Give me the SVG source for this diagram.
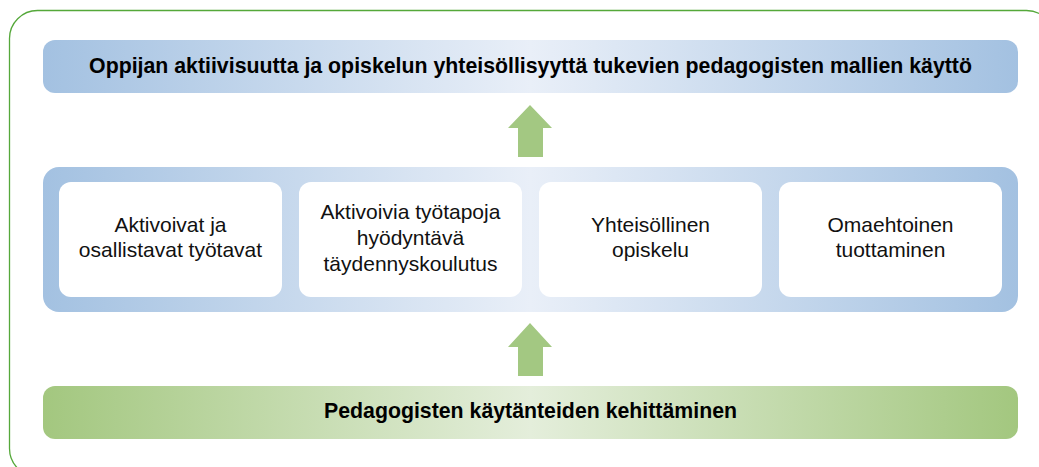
<svg xmlns="http://www.w3.org/2000/svg" width="1039" height="467" viewBox="0 0 1039 467">
<defs>
<linearGradient id="gBlue" x1="0" y1="0" x2="1" y2="0">
<stop offset="0" stop-color="#a3c1e1"/>
<stop offset="0.5" stop-color="#e9eff8"/>
<stop offset="1" stop-color="#a3c1e1"/>
</linearGradient>
<linearGradient id="gGreen" x1="0" y1="0" x2="1" y2="0">
<stop offset="0" stop-color="#a3c77f"/>
<stop offset="0.5" stop-color="#e4eedb"/>
<stop offset="1" stop-color="#a3c77f"/>
</linearGradient>
<style>
.bold{font-family:"Liberation Sans",Arial,sans-serif;font-weight:bold;font-size:21.3px;fill:#000;text-anchor:middle}
.reg{font-family:"Liberation Sans",Arial,sans-serif;font-size:21px;fill:#111;text-anchor:middle}
.box{fill:#fff}
.arrow{fill:#a3c882}
</style>
</defs>
<rect id="frame" x="9.5" y="10.5" width="1045" height="466" rx="28" fill="none" stroke="#55a83a" stroke-width="1.3"/>
<g id="goal">
<rect x="43" y="40" width="975" height="53" rx="12" fill="url(#gBlue)"/>
<text class="bold" x="530.5" y="73">Oppijan aktiivisuutta ja opiskelun yhteisöllisyyttä tukevien pedagogisten mallien käyttö</text>
</g>
<g id="methods">
<rect x="43" y="167" width="975" height="145" rx="16" fill="url(#gBlue)"/>
</g>
<g id="box1">
<rect class="box" x="59" y="182" width="223" height="115" rx="12"/>
<text class="reg" x="170.5" y="232">Aktivoivat ja</text>
<text class="reg" x="170.5" y="257">osallistavat työtavat</text>
</g>
<g id="box2">
<rect class="box" x="299" y="182" width="223" height="115" rx="12"/>
<text class="reg" x="410.5" y="219">Aktivoivia työtapoja</text>
<text class="reg" x="410.5" y="245">hyödyntävä</text>
<text class="reg" x="410.5" y="271">täydennyskoulutus</text>
</g>
<g id="box3">
<rect class="box" x="539" y="182" width="223" height="115" rx="12"/>
<text class="reg" x="650.5" y="232">Yhteisöllinen</text>
<text class="reg" x="650.5" y="257">opiskelu</text>
</g>
<g id="box4">
<rect class="box" x="779" y="182" width="223" height="115" rx="12"/>
<text class="reg" x="890.5" y="232">Omaehtoinen</text>
<text class="reg" x="890.5" y="257">tuottaminen</text>
</g>
<g id="development">
<rect x="43" y="386" width="975" height="53" rx="12" fill="url(#gGreen)"/>
<text class="bold" x="530.5" y="418">Pedagogisten käytänteiden kehittäminen</text>
</g>
<g id="connectors">
<polygon class="arrow" points="530,105 552,128 543,128 543,157 518,157 518,128 508,128"/>
<polygon class="arrow" points="530,323 552,347 543,347 543,376 518,376 518,347 508,347"/>
</g>
</svg>
